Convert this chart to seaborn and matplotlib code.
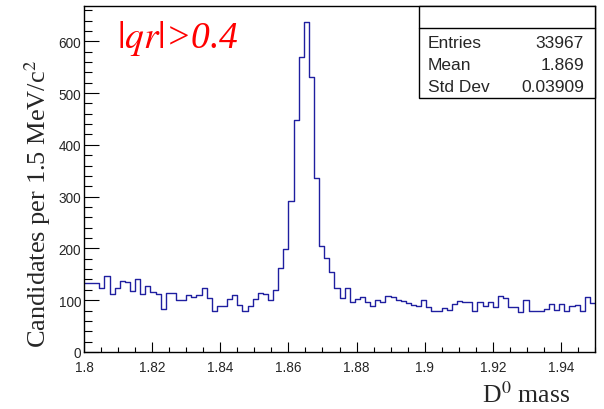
import numpy as np
import pandas as pd
import matplotlib
matplotlib.use("Agg")
import matplotlib.pyplot as plt
import matplotlib.transforms as mtransforms
from matplotlib.patches import Rectangle
from matplotlib.ticker import MultipleLocator
import seaborn as sns

# D0 candidate mass spectrum, 1.5 MeV bins from 1.80 to 1.95 GeV
mass_lo = 1.80
mass_hi = 1.95
n_bins = 100
counts = [
    133, 133, 133, 124, 146, 112, 124, 138, 136, 118,
    140, 112, 128, 116, 112, 83, 113, 113, 101, 101,
    110, 107, 110, 123, 104, 80, 88, 88, 103, 111,
    91, 79, 89, 102, 113, 112, 101, 119, 163, 199,
    291, 447, 570, 637, 530, 335, 204, 181, 154, 123,
    104, 123, 96, 103, 106, 97, 88, 101, 96, 108,
    106, 101, 99, 95, 90, 88, 101, 86, 80, 80,
    84, 82, 93, 99, 97, 97, 80, 96, 89, 96,
    87, 109, 104, 86, 86, 77, 100, 79, 79, 80,
    83, 93, 82, 93, 80, 89, 91, 80, 106, 95,
]
x_ticks = [1.80, 1.82, 1.84, 1.86, 1.88, 1.90, 1.92, 1.94]
x_tick_labels = ["1.8", "1.82", "1.84", "1.86", "1.88", "1.9", "1.92", "1.94"]
stats_names = ["Entries", "Mean", "Std Dev"]
stats_values = ["33967", "1.869", "0.03909"]
cut_label = r"$|qr|$>0.4"

edges = np.linspace(mass_lo, mass_hi, n_bins + 1)
centers = 0.5 * (edges[:-1] + edges[1:])
df = pd.DataFrame({"mass": centers, "count": counts})

sns.set_style("ticks")
plt.rcParams["font.family"] = ["Liberation Sans", "DejaVu Sans"]
plt.rcParams["mathtext.fontset"] = "stix"

W, H = 604, 410
fig = plt.figure(figsize=(W / 100, H / 100), dpi=100)
fig.patch.set_facecolor("white")
ax = fig.add_axes([84 / W, 57 / H, 511 / W, 346 / H])
ax.set_facecolor("white")

sns.histplot(data=df, x="mass", weights="count", bins=n_bins,
             binrange=(mass_lo, mass_hi),
             element="step", fill=False, color="#1f1fa0",
             linewidth=1.0, ax=ax)

ax.set_xlim(mass_lo, mass_hi)
ax.set_ylim(0, 668)
ax.set_xticks(x_ticks)
ax.set_xticklabels(x_tick_labels)
ax.xaxis.set_minor_locator(MultipleLocator(0.005))
ax.yaxis.set_major_locator(MultipleLocator(100))
ax.yaxis.set_minor_locator(MultipleLocator(20))
ax.tick_params(which="both", direction="in", top=False, right=False,
               color="black", width=0.8, labelsize=9.8)
ax.tick_params(axis="x", which="major", length=7.2, pad=5.5)
ax.tick_params(axis="x", which="minor", length=3.6)
ax.tick_params(axis="y", which="major", length=10.8, pad=2)
ax.tick_params(axis="y", which="minor", length=5.4)
ax.set_xlabel("")
ax.set_ylabel("")
for s in ax.spines.values():
    s.set_color("black")
    s.set_linewidth(1.0)

# lift the "0" label a little so it clears the first mass label
fig.canvas.draw()
zero_lbl = ax.get_yticklabels()[0]
zero_lbl.set_transform(zero_lbl.get_transform() +
                       mtransforms.ScaledTranslation(-1 / 100, 5 / 100,
                                                     fig.dpi_scale_trans))

# statistics box in the upper right corner
bx0 = (419 - 84) / 511
by0 = (353 - 99) / 346
ax.add_patch(Rectangle((bx0, by0), 1 - bx0, 1 - by0, transform=ax.transAxes,
                       facecolor="white", edgecolor="black", lw=1.0,
                       zorder=5, clip_on=False))
ydiv = (353 - 29) / 346
ax.plot([bx0, 1], [ydiv, ydiv], transform=ax.transAxes, color="black",
        lw=1.0, zorder=6, clip_on=False)
row_px = [43, 65, 87]
for name, val, ypx in zip(stats_names, stats_values, row_px):
    yy = (353 - ypx) / 346
    ax.text((428 - 84) / 511, yy, name, transform=ax.transAxes,
            ha="left", va="center", fontsize=12.5, zorder=7)
    ax.text((584 - 84) / 511, yy, val, transform=ax.transAxes,
            ha="right", va="center", fontsize=12.5, zorder=7)

# selection label
fig.text(117 / W, 1 - 48 / H, cut_label, color="#ff0000", fontsize=27,
         family=["Liberation Serif"], style="italic", va="baseline")

# axis titles
fig.text(38 / W, 1 - 60 / H, r"Candidates per 1.5 MeV/c$^{2}$",
         rotation=90, ha="center", va="top", fontsize=19,
         family=["Liberation Serif"])
fig.text(570 / W, 7 / H, r"D$^{0}$ mass", ha="right", va="baseline",
         fontsize=18.5, family=["Liberation Serif"])

fig.savefig("out.png", dpi=100)
